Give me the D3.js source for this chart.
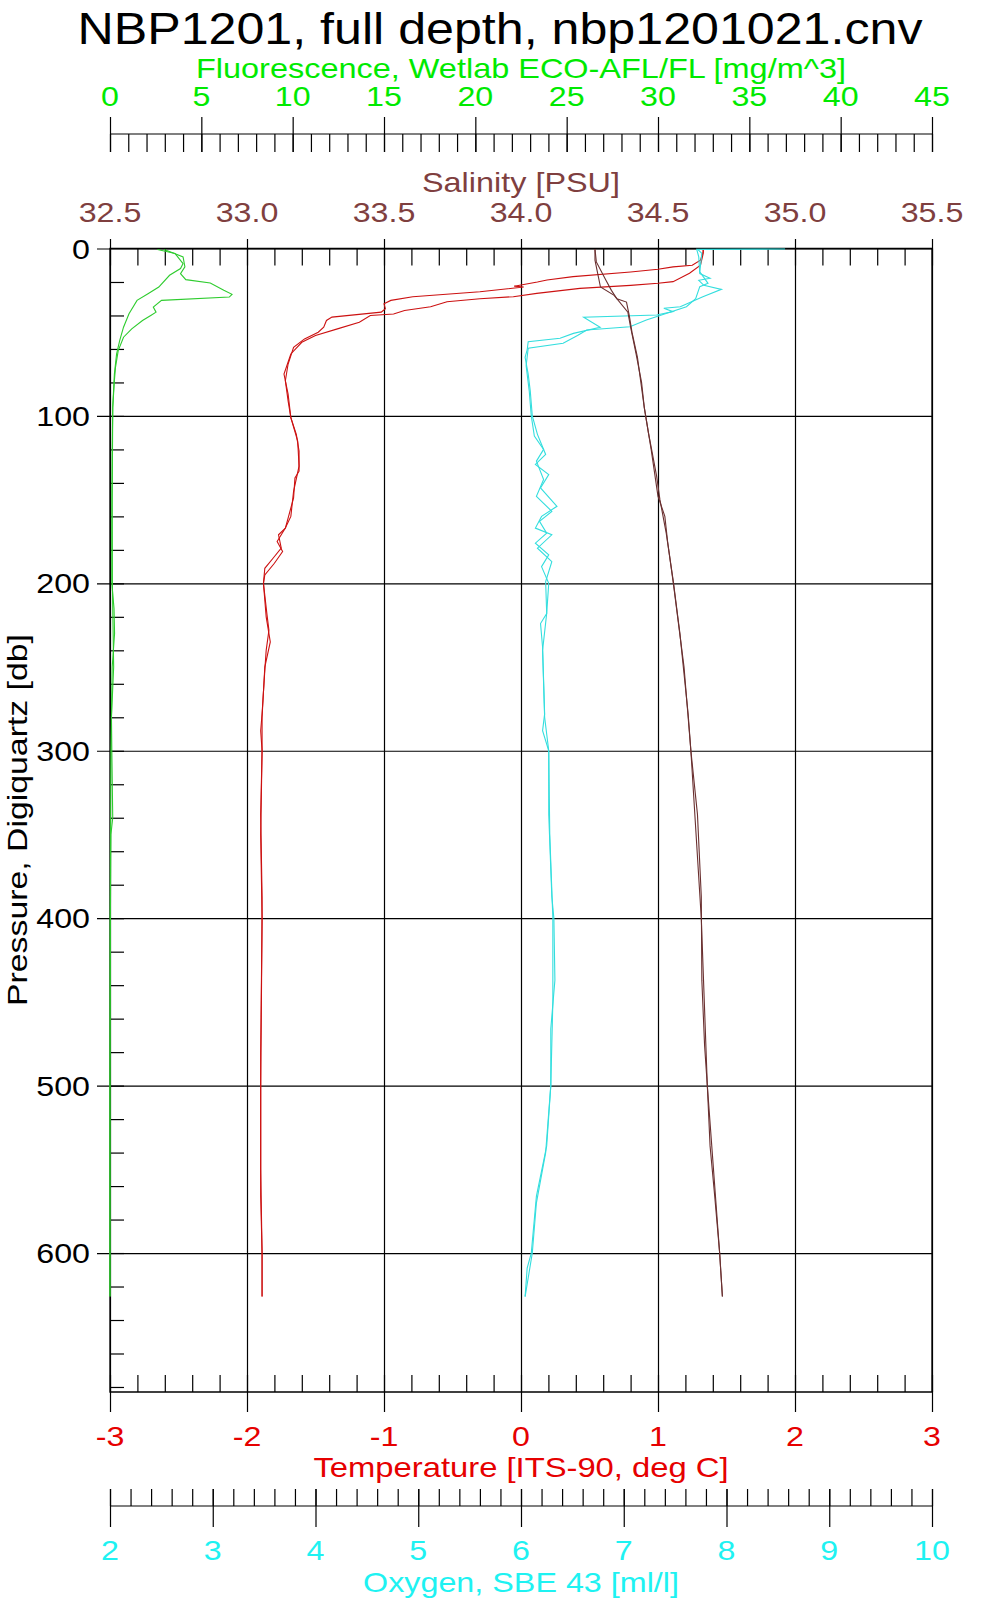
<!DOCTYPE html>
<html><head><meta charset="utf-8">
<script src="https://cdn.jsdelivr.net/npm/d3@7"></script>
<style>body{margin:0;background:#fff} text{font-family:"Liberation Sans",Arial,sans-serif}</style>
</head><body><svg id="c" width="1000" height="1600"></svg>
<script>
// ---------- tick labels ----------
const fluorTicks = [0,5,10,15,20,25,30,35,40,45];
const salTicks = [32.5,33.0,33.5,34.0,34.5,35.0,35.5];
const salLabels = ["32.5","33.0","33.5","34.0","34.5","35.0","35.5"];
const tempTicks = [-3,-2,-1,0,1,2,3];
const oxyTicks = [2,3,4,5,6,7,8,9,10];
const pressTicks = [0,100,200,300,400,500,600];

// ---------- data: [pressure db, value] ----------
const fluorCastA = [[0.6,2.97],[5,4.0],[11,4.1],[15,3.86],[18.6,4.15],[20.6,5.49],[25,6.23],[27.4,6.68],[29,6.53],[31,2.82],[35,2.37],[38,2.52],[40,2.23],[43,1.78],[48,1.19],[53,0.74],[61,0.45],[71,0.3],[79,0.24],[95,0.15],[120,0.12],[160,0.1],[200,0.1],[215,0.22],[230,0.25],[250,0.12],[300,0.05],[350,0.03],[400,0.01],[500,0.0],[626,0.0]];
const fluorCastB = [[0.6,2.6],[3,3.56],[9,4.0],[12,3.86],[16,3.26],[23,2.67],[27,2.08],[31,1.48],[39,1.04],[47,0.74],[55,0.53],[63,0.36],[75,0.24],[95,0.15],[150,0.12],[200,0.13],[250,0.2],[280,0.08],[300,0.1],[340,0.15],[350,0.05],[400,0.02],[500,0.0],[626,0.0]];

const tempCastA = [[0.5,1.33],[2,1.33],[7,1.31],[10,1.25],[11,1.11],[12.4,1.0],[14,0.8],[16.8,0.38],[18.8,0.19],[20,0.12],[21.8,0.0],[22.5,-0.05],[23,0.02],[25.8,-0.30],[28.8,-0.79],[31,-0.95],[33,-1.0],[36,-0.99],[38,-1.02],[41,-1.38],[43,-1.42],[47,-1.44],[50,-1.48],[54,-1.58],[59,-1.66],[69,-1.70],[79,-1.72],[91,-1.70],[101,-1.68],[111,-1.64],[121,-1.62],[133,-1.62],[137,-1.65],[149,-1.66],[161,-1.70],[167,-1.72],[171,-1.77],[179,-1.75],[185,-1.81],[191,-1.87],[200,-1.88],[218,-1.855],[228,-1.84],[240,-1.86],[252,-1.87],[278,-1.89],[288,-1.90],[300,-1.89],[338,-1.90],[387,-1.89],[400,-1.89],[450,-1.895],[500,-1.90],[566,-1.90],[600,-1.89],[626,-1.89]];
const tempCastB = [[0.5,1.33],[3,1.33],[10,1.31],[14.8,1.23],[19.8,1.11],[20.8,1.0],[22,0.8],[23.8,0.43],[26.8,0.115],[28.8,-0.056],[30,-0.3],[31.8,-0.54],[34.8,-0.66],[37,-0.85],[39.1,-0.93],[40,-1.10],[44,-1.18],[48,-1.34],[52,-1.50],[56,-1.60],[63,-1.68],[75,-1.73],[87,-1.70],[101,-1.68],[115,-1.63],[130,-1.62],[145,-1.66],[160,-1.68],[167,-1.72],[175,-1.78],[181,-1.74],[188,-1.80],[195,-1.87],[200,-1.88],[220,-1.86],[235,-1.83],[250,-1.87],[280,-1.89],[300,-1.89],[350,-1.90],[400,-1.89],[480,-1.90],[550,-1.90],[600,-1.89],[626,-1.89]];

const oxyCastA = [[0.3,8.57],[0.5,7.71],[5,7.73],[15,7.74],[17.8,7.84],[19,7.73],[22,7.78],[24.4,7.95],[28.8,7.77],[34.8,7.55],[35.7,7.39],[37.7,7.48],[39.7,7.32],[41.1,6.61],[47.1,6.77],[50.7,6.51],[53.6,6.38],[55.7,6.07],[60.6,6.06],[65,6.04],[75,6.07],[85,6.09],[100,6.11],[111,6.16],[123,6.24],[129,6.14],[135,6.27],[143,6.19],[154,6.35],[160,6.2],[167,6.14],[171,6.30],[179,6.16],[187,6.30],[199,6.24],[218,6.25],[224,6.19],[238,6.21],[278,6.23],[288,6.21],[300,6.27],[338,6.27],[387,6.30],[400,6.32],[437,6.33],[466,6.29],[500,6.29],[536,6.25],[566,6.15],[600,6.10],[609,6.06],[626,6.04]];
const oxyCastB = [[0.5,7.72],[2.9,7.76],[14,7.74],[20.8,7.82],[22.8,7.74],[30,7.70],[34.8,7.61],[42.7,7.22],[46.7,7.06],[48.7,6.64],[52,6.55],[56.6,6.41],[59.6,6.07],[70,6.05],[85,6.08],[100,6.10],[112,6.13],[120,6.22],[127,6.15],[138,6.22],[148,6.15],[157,6.30],[163,6.18],[170,6.25],[176,6.14],[183,6.27],[190,6.2],[200,6.27],[218,6.25],[240,6.21],[280,6.23],[300,6.27],[350,6.28],[400,6.31],[450,6.31],[500,6.29],[540,6.24],[570,6.15],[600,6.11],[626,6.04]];

const salCastA = [[0.5,34.27],[7,34.27],[15,34.28],[23,34.29],[28,34.34],[38,34.39],[47,34.40],[63,34.42],[80,34.44],[95,34.45],[110,34.465],[136,34.495],[150,34.507],[170,34.53],[199,34.556],[230,34.58],[278,34.61],[300,34.62],[338,34.644],[387,34.658],[437,34.66],[476,34.67],[500,34.68],[536,34.69],[566,34.707],[600,34.725],[626,34.735]];
const salCastB = [[0.5,34.27],[8,34.275],[19,34.31],[25,34.33],[30,34.35],[32,34.385],[40,34.395],[50,34.405],[65,34.425],[95,34.45],[120,34.475],[148,34.50],[160,34.525],[175,34.535],[200,34.556],[250,34.595],[300,34.62],[400,34.658],[500,34.68],[600,34.725],[626,34.735]];

// ---------- layout ----------
const svg = d3.select('#c');
const L=110, R=932, T=248.5, B=1392;
const y  = d3.scaleLinear().domain([0,683]).range([T,B]);
const xS = d3.scaleLinear().domain([32.5,35.5]).range([L,R]);
const xT = d3.scaleLinear().domain([-3,3]).range([L,R]);
const xF = d3.scaleLinear().domain([0,45]).range([L,R]);
const xO = d3.scaleLinear().domain([2,10]).range([L,R]);

const C = {fl:'#00ea00', flLine:'#2ecc2e', sal:'#7f3f3f', salLine:'#6a3030',
           temp:'#e60000', tempLine:'#cc1111', oxy:'#1ef2f2', oxyLine:'#33dede'};
const SX = 1.15, FS = 28;

function ticks(g){ g.select('.domain').remove(); g.selectAll('line').attr('stroke','#000').attr('stroke-width',1.2); g.selectAll('text').remove(); }
function label(x, yb, txt, color, anchor){
  svg.append('text').attr('transform',`translate(${x},${yb}) scale(${SX},1)`)
    .attr('text-anchor',anchor||'middle').attr('font-size',FS).attr('fill',color).text(txt);
}
function title(x, yb, txt, color, len, fs){
  svg.append('text').attr('x',x).attr('y',yb).attr('text-anchor','middle')
    .attr('font-size',fs||FS).attr('fill',color).attr('textLength',len)
    .attr('lengthAdjust','spacingAndGlyphs').text(txt);
}

// main title
title(500, 44, 'NBP1201, full depth, nbp1201021.cnv', '#000', 845, 44);

// fluorescence axis (top)
title(521, 78, 'Fluorescence, Wetlab ECO-AFL/FL [mg/m^3]', C.fl, 650);
fluorTicks.forEach(v=>label(xF(v),106,String(v),C.fl));
svg.append('line').attr('x1',L).attr('x2',R).attr('y1',134).attr('y2',134).attr('stroke','#000').attr('stroke-width',1.2);
svg.append('g').attr('transform','translate(0,134)').call(d3.axisBottom(xF).tickValues(d3.range(0,46,1)).tickSize(18)).call(ticks);
svg.append('g').attr('transform','translate(0,117)').call(d3.axisBottom(xF).tickValues(fluorTicks).tickSize(35)).call(ticks);

// salinity axis (plot top)
title(521, 192, 'Salinity [PSU]', C.sal, 198);
salTicks.forEach((v,i)=>label(xS(v),222,salLabels[i],C.sal));
svg.append('g').attr('transform',`translate(0,${T})`).call(d3.axisBottom(xS).tickValues(d3.range(0,31,1).map(i=>32.5+i*0.1)).tickSize(17)).call(ticks);

// grid
svg.append('g').attr('transform','translate(0,1412)').call(d3.axisTop(xS).tickValues(salTicks).tickSize(1412-239)).call(ticks);
svg.append('g').attr('transform','translate(97,0)').call(d3.axisLeft(y).tickValues(pressTicks).tickSize(-(R-97))).call(ticks);
// pressure minor ticks
svg.append('g').attr('transform',`translate(${L},0)`).call(d3.axisRight(y).tickValues(d3.range(20,683,20)).tickSize(14)).call(ticks);
// frame
svg.append('path').attr('d',`M${L},${T}V${B}H${R}V${T}Z`).attr('fill','none').attr('stroke','#000').attr('stroke-width',1.3);

// pressure labels + title
pressTicks.forEach(v=>label(90,y(v)+10,String(v),'#000','end'));
svg.append('text').attr('transform','translate(27,820) rotate(-90)').attr('text-anchor','middle')
  .attr('font-size',FS).attr('fill','#000').attr('textLength',372).attr('lengthAdjust','spacingAndGlyphs')
  .text('Pressure, Digiquartz [db]');

// temperature axis (plot bottom)
svg.append('g').attr('transform',`translate(0,${B})`).call(d3.axisTop(xT).tickValues(d3.range(0,31,1).map(i=>-3+i*0.2)).tickSize(17)).call(ticks);
tempTicks.forEach(v=>label(xT(v),1446,String(v),C.temp));
title(521, 1477, 'Temperature [ITS-90, deg C]', C.temp, 415);

// oxygen axis
svg.append('line').attr('x1',L).attr('x2',R).attr('y1',1506).attr('y2',1506).attr('stroke','#000').attr('stroke-width',1.2);
svg.append('g').attr('transform','translate(0,1489)').call(d3.axisBottom(xO).tickValues(d3.range(0,41,1).map(i=>2+i*0.2)).tickSize(17)).call(ticks);
svg.append('g').attr('transform','translate(0,1489)').call(d3.axisBottom(xO).tickValues(oxyTicks).tickSize(38)).call(ticks);
oxyTicks.forEach(v=>label(xO(v),1560,String(v),C.oxy));
title(521, 1592, 'Oxygen, SBE 43 [ml/l]', C.oxy, 316);

// profiles
function prof(data, xs, color){
  const line = d3.line().x(d=>xs(d[1])).y(d=>y(d[0]));
  svg.append('path').datum(data).attr('d',line).attr('fill','none').attr('stroke',color).attr('stroke-width',1.1);
}
prof(fluorCastA,xF,C.flLine); prof(fluorCastB,xF,C.flLine);
prof(tempCastA,xT,C.tempLine); prof(tempCastB,xT,C.tempLine);
prof(oxyCastA,xO,C.oxyLine); prof(oxyCastB,xO,C.oxyLine);
prof(salCastA,xS,C.salLine); prof(salCastB,xS,C.salLine);
</script></body></html>
